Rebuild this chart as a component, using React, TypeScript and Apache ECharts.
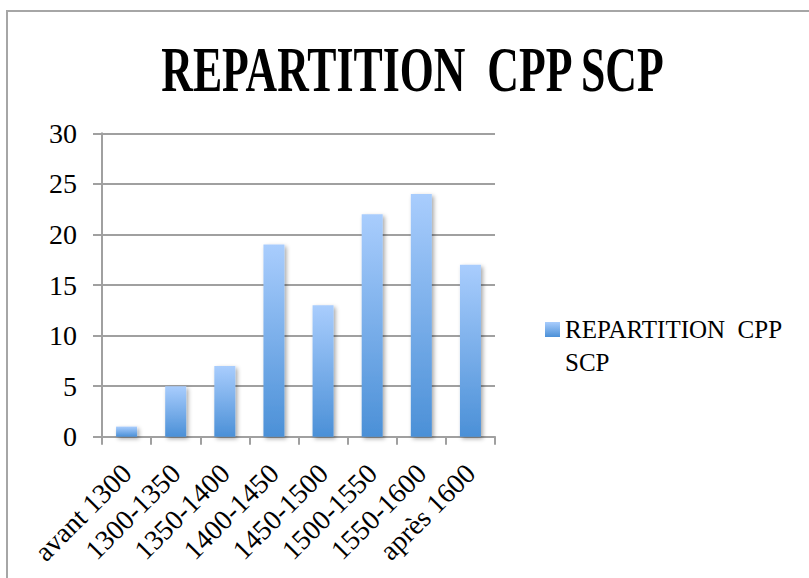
import React, { useEffect, useRef } from "react";
import * as echarts from "echarts";

const categories = ["avant 1300", "1300-1350", "1350-1400", "1400-1450", "1450-1500", "1500-1550", "1550-1600", "après 1600"];
const values = [1, 5, 7, 19, 13, 22, 24, 17];
const seriesName = "REPARTITION  CPP SCP";
const titleText = "REPARTITION  CPP SCP";

const FONT = "Liberation Serif";

export default function App() {
  const ref = useRef<HTMLDivElement>(null);
  useEffect(() => {
    if (!ref.current) return;
    const chart = echarts.init(ref.current, null, { renderer: "svg" });
    const titleSize = 63;
    let scaleX = 0.69;
    try {
      const c = document.createElement("canvas").getContext("2d");
      if (c) {
        c.font = `bold ${titleSize}px 'Liberation Serif'`;
        const w = c.measureText(titleText).width;
        if (w > 0) scaleX = 505 / w;
      }
    } catch (e) {}
    const L = 33;
    chart.setOption({
      animation: false,
      backgroundColor: "#ffffff",
      textStyle: { fontFamily: FONT, color: "#000" },
      grid: { left: 102, top: 133.3, right: 314, bottom: 141.3, containLabel: false },
      legend: {
        show: true,
        left: 545,
        top: 317,
        padding: 0,
        itemWidth: 15,
        itemHeight: 15,
        icon: "rect",
        formatter: () => "{a|REPARTITION  CPP}\n{a|SCP}",
        textStyle: {
          fontFamily: FONT,
          fontSize: 25,
          color: "#000",
          padding: [L, 0, 0, 0],
          rich: { a: { fontFamily: FONT, fontSize: 25, lineHeight: L, color: "#000" } },
        },
      },
      xAxis: {
        type: "category",
        data: categories,
        axisLine: { lineStyle: { color: "#a0a0a0", width: 2 } },
        axisTick: { show: true, length: 8, alignWithLabel: false, lineStyle: { color: "#a0a0a0", width: 2 } },
        axisLabel: { rotate: 45, interval: 0, margin: 32, fontFamily: FONT, fontSize: 28, color: "#000" },
      },
      yAxis: {
        type: "value",
        min: 0,
        max: 30,
        interval: 5,
        axisLine: { show: true, lineStyle: { color: "#a0a0a0", width: 2 } },
        axisTick: { show: true, length: 9, lineStyle: { color: "#a0a0a0", width: 2 } },
        splitLine: { show: true, lineStyle: { color: "#a0a0a0", width: 2 } },
        axisLabel: { margin: 25, fontFamily: FONT, fontSize: 28, color: "#000" },
      },
      series: [
        {
          name: seriesName,
          type: "bar",
          data: values,
          barWidth: 21,
          itemStyle: {
            color: new echarts.graphic.LinearGradient(0, 0, 0, 1, [
              { offset: 0, color: "#a9cdfd" },
              { offset: 1, color: "#4b90d7" },
            ]),
            shadowColor: "rgba(0,0,0,0.35)",
            shadowBlur: 4,
            shadowOffsetX: 2,
            shadowOffsetY: 2,
          },
        },
      ],
      graphic: [
        {
          type: "rect",
          shape: { x: 7, y: 11, width: 900, height: 700 },
          style: { fill: "none", stroke: "#a6a6a6", lineWidth: 2 },
          z: -1,
        },
        {
          type: "text",
          x: 412.5,
          y: 102,
          scaleX: scaleX,
          style: {
            text: titleText,
            fontFamily: FONT,
            fontWeight: "bold",
            fontSize: titleSize,
            fill: "#000",
            textAlign: "center",
            textVerticalAlign: "bottom",
          },
        },
      ],
    });
    return () => chart.dispose();
  }, []);
  return <div ref={ref} style={{ position: "fixed", left: 0, top: 0, width: 809, height: 578 }} />;
}
